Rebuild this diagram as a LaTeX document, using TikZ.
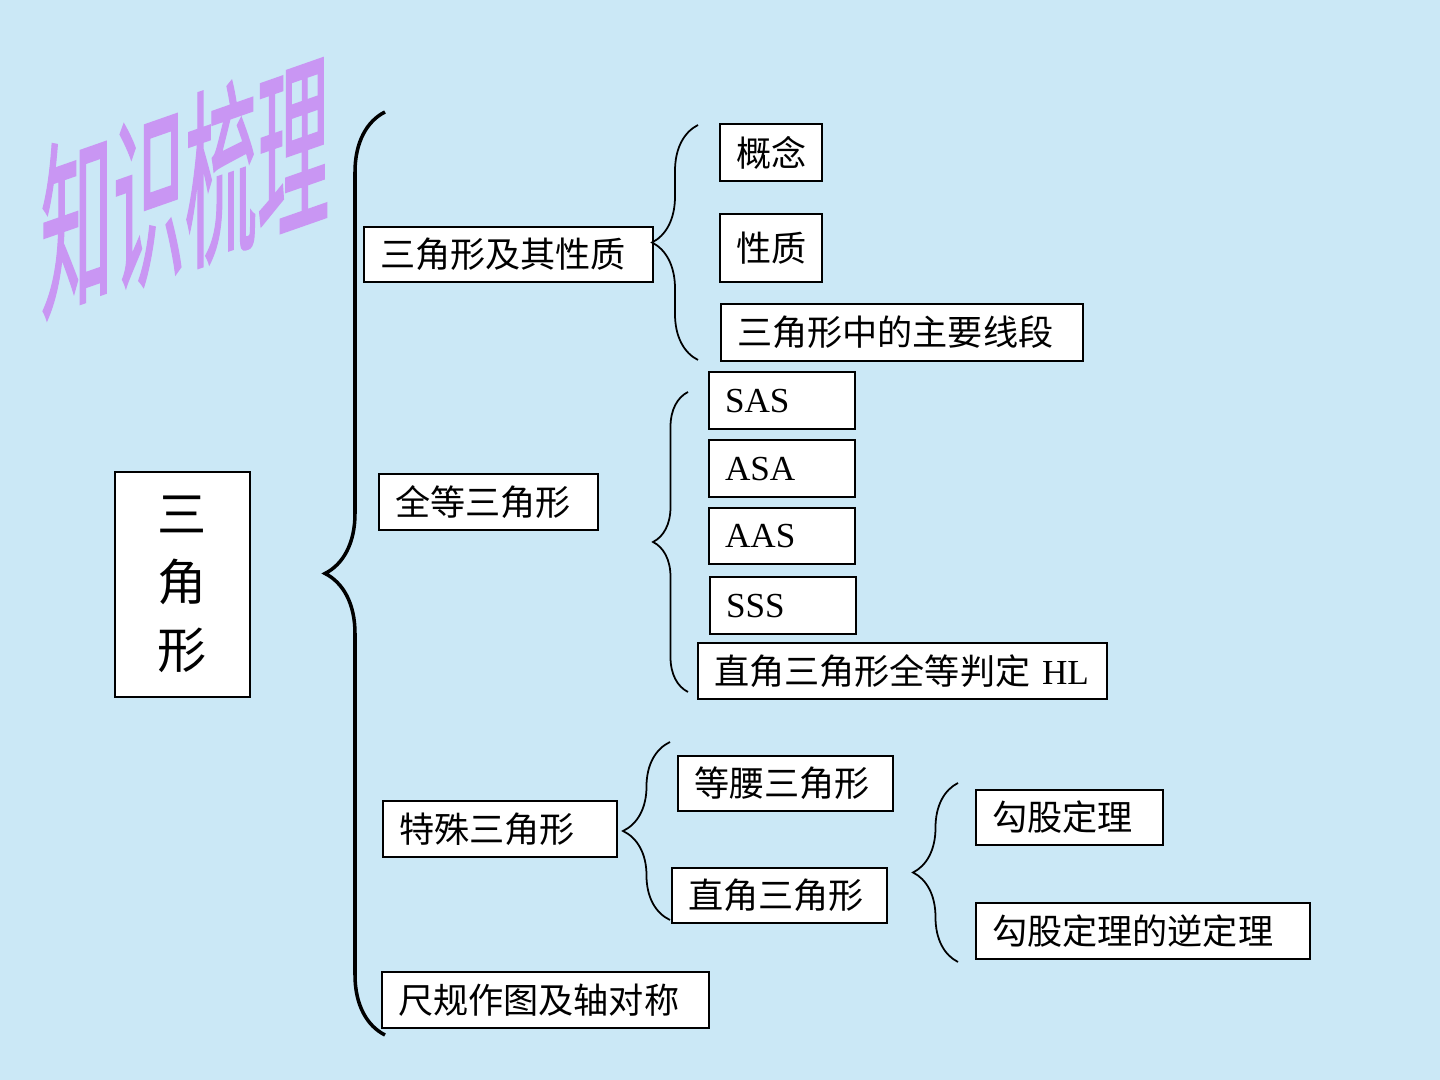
\documentclass[tikz,border=0pt]{standalone}
\usepackage{fontspec}
\setmainfont{Liberation Serif}
\newfontfamily\cjk{Noto Sans CJK SC}
\newfontfamily\titlecjk[FakeBold=1.5]{Noto Sans CJK SC}
\usetikzlibrary{decorations.pathreplacing}

\definecolor{bgblue}{RGB}{203,232,246}
\definecolor{titlepurple}{RGB}{201,150,243}

\tikzset{
  item/.style={draw, fill=white, line width=0.6pt, anchor=north west,
    inner xsep=0.16cm, inner ysep=0pt, align=left,
    font=\fontsize{10}{12}\selectfont\cjk},
  curly/.style={decorate, line width=0.5pt,
    decoration={brace, amplitude=#1}},
}

\begin{document}
\begin{tikzpicture}
            \fill[bgblue] (0,0) rectangle (14.4,10.8);
            \useasboundingbox (0,0) rectangle (14.4,10.8);

            % title
            \begin{scope}[shift={(1.85,8.95)}, yslant=0.35, xscale=0.38]
              \node[transform shape, text=titlepurple, inner sep=0pt,
                font=\fontsize{54}{54}\selectfont\titlecjk] (title) at (0,0) {知识梳理};
            \end{scope}

            % root
            \node[draw, fill=white, line width=0.6pt, minimum width=1.35cm, minimum height=2.25cm,
              align=center, font=\fontsize{14}{19.3}\selectfont\cjk] (root) at (1.825,4.955) {三\\角\\形};

            % first level
            \node[item, minimum width=2.89cm, minimum height=0.55cm, text width=2.57cm] (prop) at (3.63,8.54) {三角形及其性质};
            \node[item, minimum width=2.19cm, minimum height=0.56cm, text width=1.87cm] (cong) at (3.78,6.07) {全等三角形};
            \node[item, minimum width=2.34cm, minimum height=0.56cm, text width=2.02cm] (spec) at (3.82,2.80) {特殊三角形};
            \node[item, minimum width=3.27cm, minimum height=0.56cm, text width=2.95cm] (cons) at (3.81,1.09) {尺规作图及轴对称};

            % triangle and its properties
            \node[item, minimum width=1.02cm, minimum height=0.57cm, text width=0.70cm] (concept) at (7.19,9.57) {概念};
            \node[item, minimum width=1.02cm, minimum height=0.68cm, text width=0.70cm] (nature) at (7.19,8.67) {性质};
            \node[item, minimum width=3.62cm, minimum height=0.57cm, text width=3.30cm] (segs) at (7.20,7.77) {三角形中的主要线段};

            % congruence
            \node[item, minimum width=1.46cm, minimum height=0.57cm, text width=1.14cm, font=\fontsize{10}{12}\selectfont] (sas) at (7.08,7.09) {SAS};
            \node[item, minimum width=1.46cm, minimum height=0.57cm, text width=1.14cm, font=\fontsize{10}{12}\selectfont] (asa) at (7.08,6.41) {ASA};
            \node[item, minimum width=1.46cm, minimum height=0.56cm, text width=1.14cm, font=\fontsize{10}{12}\selectfont] (aas) at (7.08,5.73) {AAS};
            \node[item, minimum width=1.46cm, minimum height=0.57cm, text width=1.14cm, font=\fontsize{10}{12}\selectfont] (sss) at (7.09,5.04) {SSS};
            \node[item, minimum width=4.09cm, minimum height=0.56cm, text width=3.77cm] (hl) at (6.97,4.38) {直角三角形全等判定{\rmfamily\ HL}};

            % special triangles
            \node[item, minimum width=2.15cm, minimum height=0.55cm, text width=1.83cm] (iso) at (6.77,3.25) {等腰三角形};
            \node[item, minimum width=2.15cm, minimum height=0.55cm, text width=1.83cm] (right) at (6.71,2.13) {直角三角形};
            \node[item, minimum width=1.87cm, minimum height=0.55cm, text width=1.55cm] (pyth) at (9.75,2.91) {勾股定理};
            \node[item, minimum width=3.34cm, minimum height=0.56cm, text width=3.02cm] (conv) at (9.75,1.78) {勾股定理的逆定理};

            % brace ends
            \coordinate (b0t) at (3.85,9.68);
            \coordinate (b0b) at (3.85,0.45);
            \coordinate (b1t) at (6.98,9.55);
            \coordinate (b1b) at (6.98,7.20);
            \coordinate (b2t) at (6.88,6.88);
            \coordinate (b2b) at (6.88,3.88);
            \coordinate (b3t) at (6.70,3.38);
            \coordinate (b3b) at (6.70,1.60);
            \coordinate (b4t) at (9.58,2.97);
            \coordinate (b4b) at (9.58,1.18);

            \draw[curly=0.60cm, line width=1pt] (b0b) -- (b0t);
            \draw[curly=0.46cm] (b1b) -- (b1t);
            \draw[curly=0.35cm] (b2b) -- (b2t);
            \draw[curly=0.47cm] (b3b) -- (b3t);
            \draw[curly=0.45cm] (b4b) -- (b4t);
        \end{tikzpicture}
\end{document}
